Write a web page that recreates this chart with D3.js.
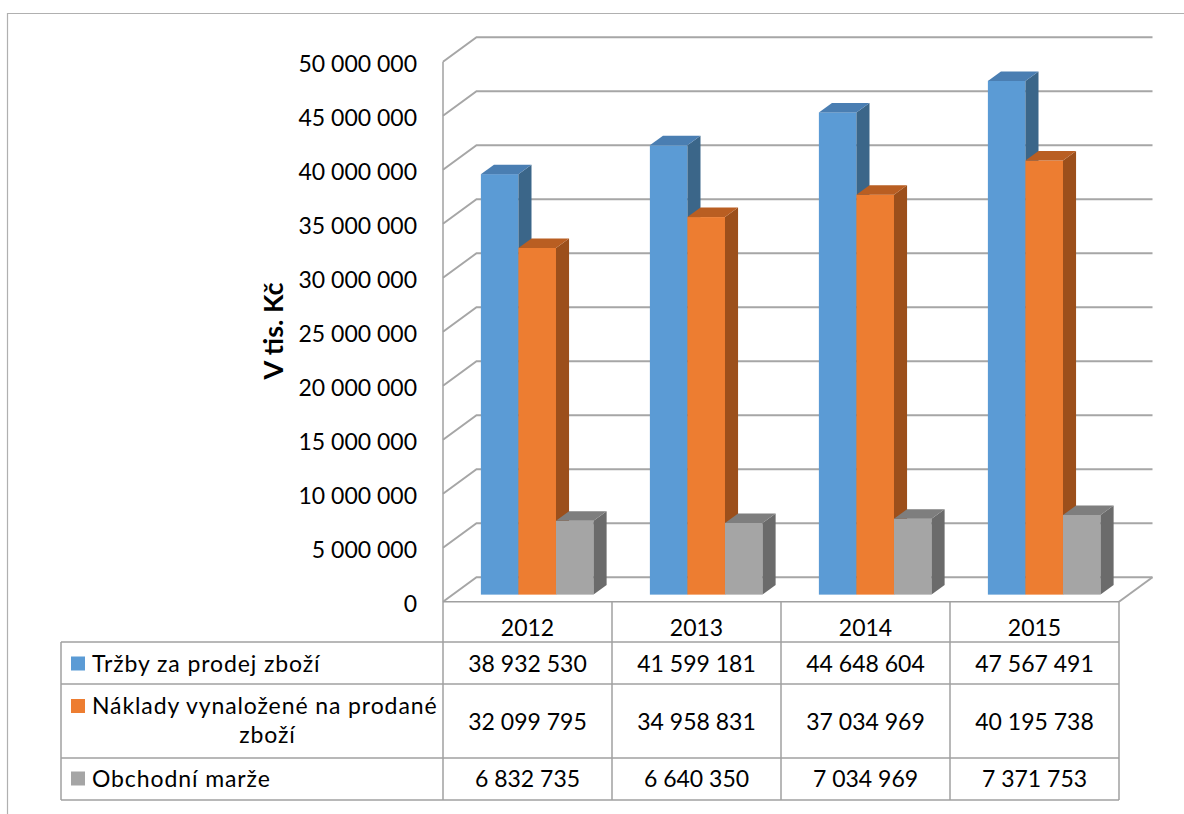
<!DOCTYPE html>
<html>
<head>
<meta charset="utf-8">
<script src="https://cdnjs.cloudflare.com/ajax/libs/d3/7.8.5/d3.min.js"></script>
<style>
  html, body { margin: 0; padding: 0; background: #fff; }
  svg { display: block; }
  text { font-family: Lato, "Open Sans", sans-serif; fill: #000; }
</style>
</head>
<body>
<svg id="chart" width="1184" height="814"></svg>
<script>
// Categories and series values
const years = ["2012", "2013", "2014", "2015"];
const seriesNames = ["Tržby za prodej zboží", "Náklady vynaložené na prodané zboží", "Obchodní marže"];
const trzby = [38932530, 41599181, 44648604, 47567491];
const naklady = [32099795, 34958831, 37034969, 40195738];
const marze = [6832735, 6640350, 7034969, 7371753];
const yTicks = [0, 5000000, 10000000, 15000000, 20000000, 25000000, 30000000, 35000000, 40000000, 45000000, 50000000];
const axisTitle = "V tis. Kč";

const series = [
  { name: seriesNames[0], values: trzby,   front: "#5B9BD5", top: "#4A7EB2", side: "#3B6689" },
  { name: seriesNames[1], values: naklady, front: "#ED7D31", top: "#B95E22", side: "#9C4F1B" },
  { name: seriesNames[2], values: marze,   front: "#A5A5A5", top: "#7E7E7E", side: "#6B6B6B" }
];

const svg = d3.select("#chart");
const fmt = v => d3.format(",")(v).replace(/,/g, " ");

// Plot geometry: front plane plus an oblique depth offset
const left = 443, right = 1119;
const DX = 33.5, DY = -24.4;
const y = d3.scaleLinear().domain([0, 50000000]).range([601.7, 61.7]);
const x = d3.scaleBand().domain(years).range([left, right]).padding(0);
const slot = x.bandwidth();
const barW = slot / 4.5;
const gap = barW * 0.75;
const inner = d3.scaleBand().domain(d3.range(series.length)).range([gap, slot - gap]).padding(0);
const z0 = 0.29, z1 = 0.68;

const gridColor = "#a6a6a6";

// Outer chart frame
svg.append("path")
  .attr("d", "M7.5,814 L7.5,13.5 L1184,13.5")
  .attr("fill", "none").attr("stroke", "#b0b0b0").attr("stroke-width", 1.2);

// Side wall and back wall gridlines
const grid = svg.append("g").attr("fill", "none").attr("stroke", gridColor).attr("stroke-width", 2);
grid.selectAll("path.grid").data(yTicks).join("path")
  .attr("class", "grid")
  .attr("d", t => `M${left},${y(t)} L${left + DX},${y(t) + DY} L${right + DX},${y(t) + DY}`);
// Floor right edge
grid.append("path")
  .attr("d", `M${right},${y(0)} L${right + DX},${y(0) + DY}`);

// 3D bars
const bars = svg.append("g");
years.forEach((yr, i) => {
  series.forEach((s, k) => {
    const v = s.values[i];
    const x0 = x(yr) + inner(k) + z0 * DX;
    const x1 = x0 + barW;
    const yb = y(0) + z0 * DY;
    const yt = y(v) + z0 * DY;
    const dx = (z1 - z0) * DX, dy = (z1 - z0) * DY;
    const g = bars.append("g");
    g.append("rect")
      .attr("x", x0).attr("y", yt).attr("width", barW).attr("height", yb - yt)
      .attr("fill", s.front);
    g.append("path")
      .attr("d", `M${x1},${yt} L${x1 + dx},${yt + dy} L${x1 + dx},${yb + dy} L${x1},${yb} Z`)
      .attr("fill", s.side);
    g.append("path")
      .attr("d", `M${x0},${yt} L${x0 + dx},${yt + dy} L${x1 + dx},${yt + dy} L${x1},${yt} Z`)
      .attr("fill", s.top);
  });
});

// Vertical value axis on the front plane
const axis = d3.axisLeft(y).tickValues(yTicks).tickSize(0).tickPadding(26).tickFormat(fmt);
const axG = svg.append("g").attr("transform", `translate(${left},0)`).call(axis);
axG.select(".domain").remove();
axG.selectAll("text")
  .attr("font-family", "Lato, 'Open Sans', sans-serif")
  .attr("font-size", 23)
  .attr("fill", "#000")
  .attr("dy", "0.42em");

// Axis title
svg.append("text")
  .attr("transform", "translate(283,331) rotate(-90)")
  .attr("text-anchor", "middle")
  .attr("font-size", 27)
  .attr("font-weight", 700)
  .text(axisTitle);

// Data table under the plot
const tableLeft = 61;
const rowLines = [642, 684, 758, 800];
const headerTop = y(0);
const tbl = svg.append("g").attr("fill", "none").attr("stroke", "#a0a0a0").attr("stroke-width", 1.5);

// Front axis line, continuing as the first table column border
tbl.append("line").attr("x1", left).attr("x2", left).attr("y1", y(50000000)).attr("y2", 800);
// Header row top (floor front edge)
tbl.append("line").attr("x1", left).attr("x2", right).attr("y1", headerTop).attr("y2", headerTop);
// Row lines
tbl.selectAll("line.row").data(rowLines).join("line")
  .attr("class", "row")
  .attr("x1", tableLeft).attr("x2", right)
  .attr("y1", d => d).attr("y2", d => d);
// Left border of legend column
tbl.append("line").attr("x1", tableLeft).attr("x2", tableLeft).attr("y1", rowLines[0]).attr("y2", 800);
// Column borders
tbl.selectAll("line.col").data(years).join("line")
  .attr("class", "col")
  .attr("x1", d => x(d) + slot).attr("x2", d => x(d) + slot)
  .attr("y1", headerTop).attr("y2", 800);

const txt = svg.append("g").attr("font-size", 23);

// Year headers
txt.selectAll("text.year").data(years).join("text")
  .attr("class", "year")
  .attr("x", d => x(d) + slot / 2)
  .attr("y", 636)
  .attr("text-anchor", "middle")
  .text(d => d);

// Value rows
const rowBaselines = [671.5, 729.5, 786.5];
series.forEach((s, k) => {
  txt.selectAll(`text.val${k}`).data(s.values).join("text")
    .attr("class", `val${k}`)
    .attr("x", (d, i) => x(years[i]) + slot / 2)
    .attr("y", rowBaselines[k])
    .attr("text-anchor", "middle")
    .text(d => fmt(d));
});

// Legend cells
const keyX = 71, textX = 92;
const legendLines = [
  [{ t: "Tržby za prodej zboží", y: 671.5 }],
  [{ t: "Náklady vynaložené na prodané", y: 714 }, { t: "zboží", y: 743, center: true }],
  [{ t: "Obchodní marže", y: 786.5 }]
];
series.forEach((s, k) => {
  const lines = legendLines[k];
  svg.append("rect")
    .attr("x", keyX).attr("y", lines[0].y - 15)
    .attr("width", 14).attr("height", 14)
    .attr("fill", s.front);
  lines.forEach(l => {
    txt.append("text")
      .attr("x", l.center ? (textX + left) / 2 : textX)
      .attr("y", l.y)
      .attr("letter-spacing", 0.9)
      .attr("text-anchor", l.center ? "middle" : "start")
      .text(l.t);
  });
});
</script>
</body>
</html>
